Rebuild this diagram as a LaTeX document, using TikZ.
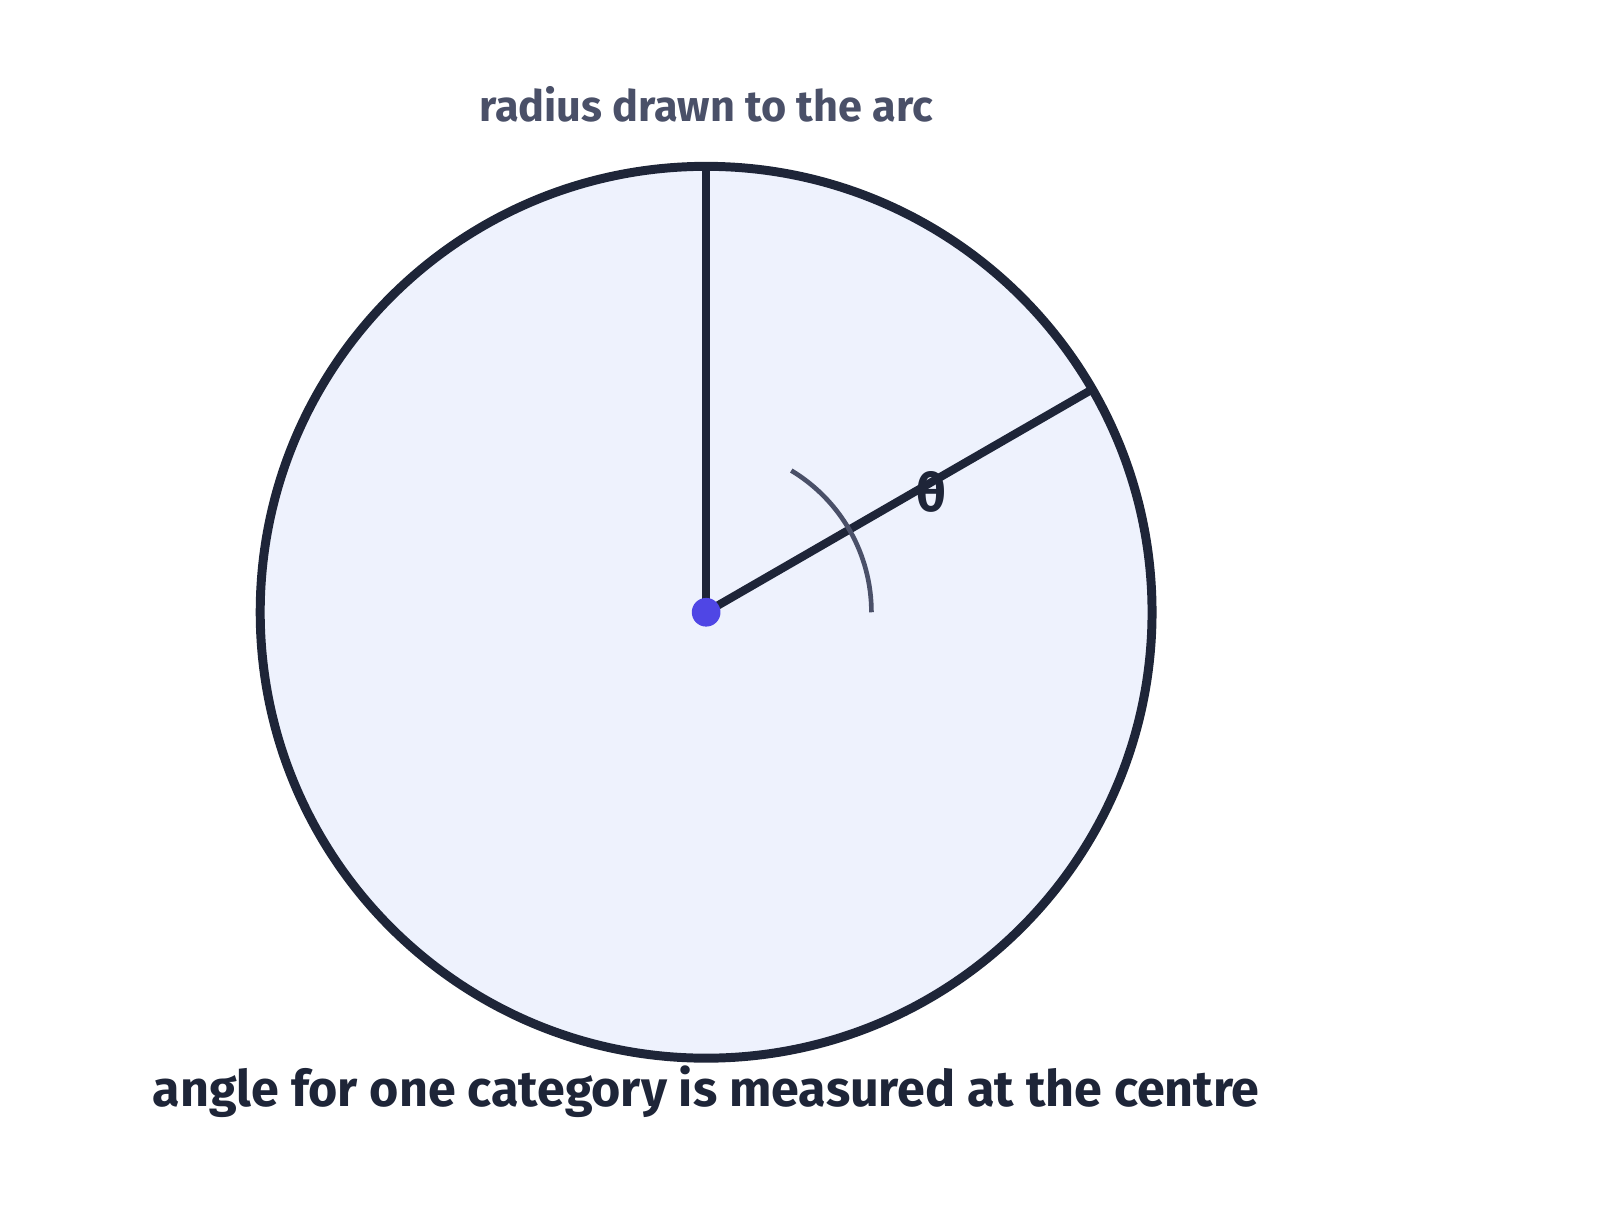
\documentclass[tikz,border=0pt]{standalone}
\usepackage{fontspec}
\setmainfont{Fira Sans}
\usetikzlibrary{calc}
\definecolor{ink}{HTML}{1E2538}
\definecolor{disc}{HTML}{EEF2FD}
\definecolor{dotblue}{HTML}{4F46E5}
\definecolor{greyink}{HTML}{4A5068}
\tikzstyle{rim}=[draw=ink,fill=disc,line width=2.5pt]
\tikzstyle{radiusline}=[draw=ink,line width=2.3pt]
\tikzstyle{anglearc}=[draw=greyink,line width=1.3pt]
\tikzstyle{centredot}=[circle,fill=dotblue,minimum size=8pt,inner sep=0pt]
\tikzstyle{caption} = [font=\fontsize{14}{17}\selectfont\bfseries]

\begin{document}
\begin{tikzpicture}
    \useasboundingbox (0,0) rectangle (15.68,11.995);

    \coordinate (o) at (6.92,5.995);
    \path[rim] (o) circle (4.37);
    \coordinate (top) at (6.92,10.365);
    \coordinate (edge) at ($(o)+(30:4.37)$);

    % radii and the angle at the centre
    \path[radiusline] (o) -- (top);
    \path[radiusline] (o) -- (edge);
    \path[anglearc] (o) ++(0:1.62) arc[start angle=0,end angle=59,radius=1.62];
    \node[centredot] (centre) at (o) {};
    \node[font=\fontsize{14.7}{17}\selectfont\bfseries,text=ink] (theta) at (9.13,7.175) {θ};

    \node[caption,font=\fontsize{12.05}{15}\selectfont\bfseries,text=greyink] (toplabel) at (6.92,10.975) {radius drawn to the arc};
    \node[caption,text=ink] (bottomlabel) at (6.92,1.295) {angle for one category is measured at the centre};
\end{tikzpicture}
\end{document}
